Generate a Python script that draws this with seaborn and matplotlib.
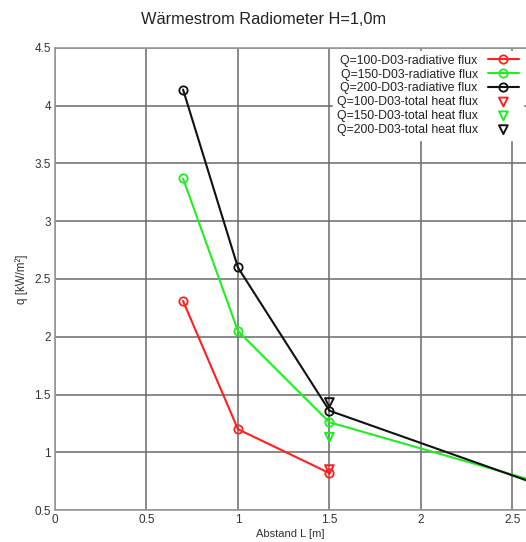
import seaborn as sns
import matplotlib.pyplot as plt
import pandas as pd

# distances [m] and radiative flux [kW/m2]
abstand = [0.7, 1.0, 1.5, 3.0]
q100_rad = [2.31, 1.20, 0.82]
q150_rad = [3.37, 2.05, 1.26, 0.58]
q200_rad = [4.14, 2.60, 1.36, 0.52]

# total heat flux, measured only at 1.5 m
abstand_total = [1.5]
q100_total = [0.85]
q150_total = [1.13]
q200_total = [1.43]

series = ['Q=100-D03', 'Q=150-D03', 'Q=200-D03']
farben = ['#ff2020', '#20ee20', '#111111']

rad = pd.concat([
    pd.DataFrame({'L': abstand[:len(q100_rad)], 'q': q100_rad, 'serie': series[0]}),
    pd.DataFrame({'L': abstand, 'q': q150_rad, 'serie': series[1]}),
    pd.DataFrame({'L': abstand, 'q': q200_rad, 'serie': series[2]}),
])
tot = pd.DataFrame({'L': abstand_total * 3,
                    'q': q100_total + q150_total + q200_total,
                    'serie': series})

sns.set_style('white')
plt.rcParams['font.family'] = ['Liberation Sans', 'DejaVu Sans']

fig = plt.figure(figsize=(5.26, 5.42), dpi=100)
ax = fig.add_axes([0.1046, 0.059, 0.8954, 0.8525])

for s, c in zip(series, farben):
    sns.lineplot(x='L', y='q', data=rad[rad['serie'] == s], ax=ax, color=c,
                 marker='o', markersize=6, markerfacecolor='none',
                 markeredgecolor=c, markeredgewidth=1.3, linewidth=1.5,
                 label=s + '-radiative flux')
for s, c in zip(series, farben):
    sns.scatterplot(x='L', y='q', data=tot[tot['serie'] == s], ax=ax,
                    marker='v', s=40, facecolor='none', edgecolor=c,
                    linewidth=1.4, label=s + '-total heat flux', zorder=5)

ax.set_xlim(0, 2.575)
ax.set_ylim(0.5, 4.5)
ax.set_xticks([0, 0.5, 1, 1.5, 2, 2.5])
ax.set_xticklabels(['0', '0.5', '1', '1.5', '2', '2.5'])
ax.set_yticks([0.5, 1, 1.5, 2, 2.5, 3, 3.5, 4, 4.5])
ax.set_yticklabels(['0.5', '1', '1.5', '2', '2.5', '3', '3.5', '4', '4.5'])
ax.grid(True, color='#6a6a6a', linewidth=1.1)
ax.tick_params(labelsize=8.5, colors='#333333', length=0, pad=3)
for sp in ax.spines.values():
    sp.set_color('#999999')
    sp.set_linewidth(1.2)
ax.spines['right'].set_visible(False)

ax.set_xlabel('Abstand L [m]', fontsize=8, color='#333333', labelpad=2)
ax.set_ylabel('q [kW/m²]', fontsize=8.3, color='#333333')
ax.yaxis.set_label_coords(-0.058, 0.5)
fig.suptitle('Wärmestrom Radiometer H=1,0m', x=0.502, y=0.977, fontsize=11.8,
             color='#222222')

leg = ax.legend(loc='upper right', markerfirst=False, fontsize=8.8,
                frameon=True, fancybox=False, framealpha=1,
                edgecolor='white', borderaxespad=0.25, handlelength=2.6,
                labelspacing=0.15, borderpad=0.3, handletextpad=0.8)
for t in leg.get_texts():
    t.set_color('#222222')
for col in leg._legend_handle_box.get_children():
    col.align = 'right'

fig.savefig('out.png', dpi=100)
